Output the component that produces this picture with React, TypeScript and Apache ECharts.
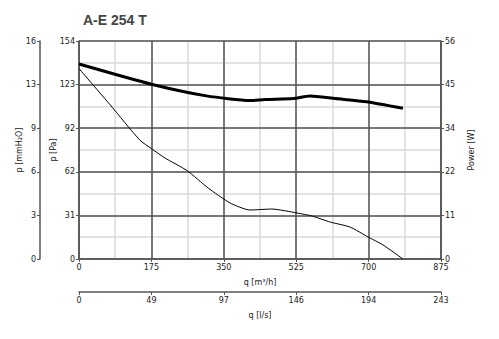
import React, { useEffect, useRef } from "react";
import * as echarts from "echarts";

const qTicks = [0, 175, 350, 525, 700, 875];
const pressureQ = [0, 75, 147, 175, 208, 261, 312, 365, 413, 466, 527, 563, 607, 655, 699, 735, 783];
const pressurePa = [134.5, 109, 84, 78, 71.3, 62.5, 50.2, 39.6, 34.6, 35.3, 32.5, 30.4, 26.1, 22.6, 15.5, 9.9, 0];
const powerQ = [0, 175, 308, 413, 450, 517, 558, 620, 695, 783];
const powerW = [50.1, 44.9, 41.9, 40.7, 41.0, 41.2, 41.9, 41.2, 40.4, 38.7];

const FONT = "DejaVu Sans";
const DARK = "#555";
const LIGHT = "#d9d9d9";

export default function App() {
  const ref = useRef<HTMLDivElement>(null);
  useEffect(() => {
    const chart = echarts.init(ref.current!, undefined, { renderer: "svg" });
    const lbl = { fontSize: 8, color: "#222", fontFamily: FONT };
    const round = (v: number) => String(Math.round(v));
    const line = { show: true, onZero: false, lineStyle: { color: DARK, width: 1.5 } };
    const tick = { show: true, length: 3, lineStyle: { color: DARK } };
    const hidden = {
      axisLine: { show: false },
      axisTick: { show: false },
      axisLabel: { show: false },
    };
    chart.setOption({
      animation: false,
      title: {
        text: "A-E 254 T",
        left: 78,
        top: 8,
        textStyle: { fontSize: 14, fontWeight: "bold", color: "#444", fontFamily: "Liberation Sans" },
      },
      grid: { left: 79, top: 41, right: 58, bottom: 80, containLabel: false },
      xAxis: [
        {
          type: "value",
          min: 0,
          max: qTicks[qTicks.length - 1],
          interval: qTicks[1],
          position: "bottom",
          name: "q [m³/h]",
          nameLocation: "middle",
          nameGap: 19,
          nameMoveOverlap: false,
          nameTextStyle: lbl,
          axisLine: line,
          axisTick: tick,
          axisLabel: { ...lbl, margin: 4 },
          splitLine: { show: true, lineStyle: { color: DARK, width: 1.5 } },
          z: 2,
        },
        {
          type: "value",
          min: 0,
          max: 243,
          interval: 48.6,
          position: "bottom",
          offset: 33,
          name: "q [l/s]",
          nameLocation: "middle",
          nameGap: 19,
          nameMoveOverlap: false,
          nameTextStyle: lbl,
          axisLine: line,
          axisTick: tick,
          axisLabel: { ...lbl, margin: 4, formatter: round },
          splitLine: { show: false },
        },
        {
          type: "value",
          min: 0,
          max: qTicks[qTicks.length - 1],
          interval: qTicks[1] / 2,
          ...hidden,
          splitLine: { show: true, lineStyle: { color: LIGHT, width: 1.5 } },
          z: 0,
        },
      ],
      yAxis: [
        {
          type: "value",
          min: 0,
          max: 154,
          interval: 30.8,
          position: "left",
          name: "p [Pa]",
          nameLocation: "middle",
          nameRotate: 90,
          nameGap: 22,
          nameMoveOverlap: false,
          nameTextStyle: lbl,
          axisLine: line,
          axisTick: tick,
          axisLabel: { ...lbl, margin: 4, formatter: round },
          splitLine: { show: true, lineStyle: { color: DARK, width: 1.5 } },
          z: 2,
        },
        {
          type: "value",
          min: 0,
          max: 15.7,
          interval: 3.14,
          position: "left",
          offset: 39,
          name: "p [mmH₂O]",
          nameLocation: "middle",
          nameRotate: 90,
          nameGap: 17,
          nameMoveOverlap: false,
          nameTextStyle: lbl,
          axisLine: line,
          axisTick: tick,
          axisLabel: { ...lbl, margin: 4, formatter: round },
          splitLine: { show: false },
        },
        {
          type: "value",
          min: 0,
          max: 56,
          interval: 11.2,
          position: "right",
          name: "Power [W]",
          nameLocation: "middle",
          nameRotate: 90,
          nameGap: 26,
          nameMoveOverlap: false,
          nameTextStyle: lbl,
          axisLine: line,
          axisTick: tick,
          axisLabel: { ...lbl, margin: 4, formatter: round },
          splitLine: { show: false },
        },
        {
          type: "value",
          min: 0,
          max: 154,
          interval: 15.4,
          ...hidden,
          splitLine: { show: true, lineStyle: { color: LIGHT, width: 1.5 } },
          z: 0,
        },
      ],
      series: [
        {
          type: "line",
          xAxisIndex: 0,
          yAxisIndex: 0,
          data: pressureQ.map((q, i) => [q, pressurePa[i]]),
          showSymbol: false,
          smooth: 0.2,
          lineStyle: { color: "#000", width: 1 },
          z: 5,
        },
        {
          type: "line",
          xAxisIndex: 0,
          yAxisIndex: 2,
          data: powerQ.map((q, i) => [q, powerW[i]]),
          showSymbol: false,
          smooth: 0.2,
          lineStyle: { color: "#000", width: 3 },
          z: 5,
        },
      ],
    });
    return () => chart.dispose();
  }, []);
  return <div ref={ref} style={{ width: 499, height: 339, position: "absolute", left: 0, top: 0 }} />;
}
